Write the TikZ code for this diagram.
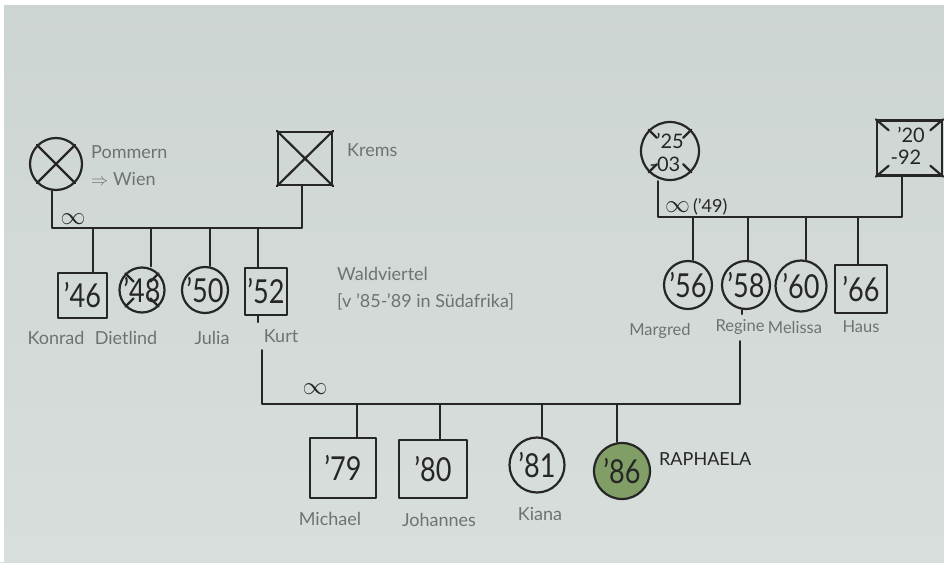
\documentclass[tikz,border=0pt]{standalone}
\usepackage{fontspec}
\setmainfont{Lato}
\usetikzlibrary{calc}

\definecolor{ink}{HTML}{262626}
\definecolor{pencil}{HTML}{6E7372}
\definecolor{paperT}{HTML}{CDD5D2}
\definecolor{paperM}{HTML}{E3E9E6}
\definecolor{paperB}{HTML}{D8DEDB}
\definecolor{leaf}{HTML}{819E66}

% narrow hand-lettered year numbers
\newcommand{\yrtext}[1]{\scalebox{0.82}[1]{#1}}

\tikzset{
  every path/.style={line cap=round, line join=round},
  ink/.style={draw=ink, line width=2.2pt},
  male/.style={ink, rectangle, inner sep=0pt},
  female/.style={ink, circle, inner sep=0pt},
  link/.style={draw=ink, line width=2pt},
  yr/.style={text=ink, inner sep=0pt, font=\fontsize{33}{33}\selectfont},
  yrsmall/.style={text=ink, inner sep=0pt, font=\fontsize{20}{20}\selectfont},
  nm/.style={text=pencil, inner sep=0pt, font=\fontsize{18}{18}\selectfont},
  note/.style={text=pencil, inner sep=0pt, align=left, anchor=west,
               font=\fontsize{18}{27}\selectfont},
  bond/.style={text=ink, inner sep=0pt, font=\fontsize{24}{24}\selectfont},
}

\begin{document}
\begin{tikzpicture}[x=1pt,y=-1pt]
% paper
\shade[top color=paperT, middle color=paperM, bottom color=paperB]
  (0,0) rectangle (944,562);
\fill[white] (0,0) rectangle (944,5);
\fill[white] (0,0) rectangle (4,562);
\useasboundingbox (0,0) rectangle (944,562);

% ---------- paternal grandparents ----------
\node[female, minimum size=52pt] (gmL) at (56,164) {};
\draw[ink] (gmL.north west) -- (gmL.south east)
           (gmL.north east) -- (gmL.south west);
\node[male, minimum width=54pt, minimum height=53pt] (gpL) at (305,158.5) {};
\draw[ink] (gpL.north west) -- (gpL.south east)
           (gpL.north east) -- (gpL.south west);
\node[note] (origL) at (91,166) {Pommern\\$\Rightarrow$ Wien};
\node[note] (origLp) at (347,150) {Krems};

\coordinate (mL) at (302,228);
\draw[link] ([xshift=-4pt]gmL.south) |- (mL) -- (gpL.south -| mL);
\node[bond] (infL) at (73,219) {$\infty$};

% children
\node[male, minimum width=49pt, minimum height=45pt] (konrad) at (82.5,295.5) {};
\node[female, minimum size=45pt] (dietlind) at (142,290) {};
\node[female, minimum size=46pt] (julia) at (205,290) {};
\node[male, minimum width=42pt, minimum height=47pt] (kurt) at (266,291.5) {};
\foreach \a in {north west, north east, south west, south east}
  \draw[ink] ($(dietlind.center)!0.5!(dietlind.\a)$) -- (dietlind.\a);
\node[yr] (konradY) at (konrad) {\yrtext{'46}};
\node[yr] (dietlindY) at (dietlind) {\yrtext{'48}};
\node[yr] (juliaY) at (julia) {\yrtext{'50}};
\node[yr] (kurtY) at (kurt) {\yrtext{'52}};

\coordinate (dK) at (93,228);
\coordinate (dD) at (151,228);
\coordinate (dJ) at (210,228);
\coordinate (dU) at (258,228);
\draw[link] (dK) -- (konrad.north -| dK);
\draw[link] (dD) -- (dietlind.north -| dD);
\draw[link] (dJ) -- (julia.north -| dJ);
\draw[link] (dU) -- (kurt.north -| dU);

\node[nm] (konradN) at (56,338) {Konrad};
\node[nm] (dietlindN) at (126,338) {Dietlind};
\node[nm] (juliaN) at (212,338) {Julia};
\node[nm] (kurtN) at (281,336) {Kurt};

\node[note] (placeK) at (337,289) {Waldviertel\\{[}v '85-'89 in Südafrika{]}};

% ---------- maternal grandparents ----------
\node[female, minimum size=58pt] (gmR) at (670,151) {};
\foreach \a in {north west, north east, south west, south east}
  \draw[ink] ($(gmR.center)!0.62!(gmR.\a)$) -- (gmR.\a);
\node[yrsmall] (gmRY1) at (670,141) {'25};
\node[yrsmall] (gmRY2) at (665,164) {-03};

\node[male, minimum width=65pt, minimum height=55pt] (gpR) at (909.5,148) {};
\foreach \a in {north west, north east, south west, south east}
  \draw[ink] ($(gpR.center)!0.62!(gpR.\a)$) -- (gpR.\a);
\node[yrsmall] (gpRY1) at (911,135) {'20};
\node[yrsmall] (gpRY2) at (906,157) {-92};

\coordinate (mR) at (902,217);
\draw[link] ([xshift=-12pt]gmR.south) |- (mR) -- (gpR.south -| mR);
\node[bond, anchor=west] (infR) at (665,207)
  {$\infty$\fontsize{18}{18}\selectfont\,('49)};

% children
\node[female, minimum size=48pt] (margred) at (688,285) {};
\node[female, minimum size=48pt] (regine) at (746,285) {};
\node[female, minimum size=51pt] (melissa) at (801,286) {};
\node[male, minimum width=52pt, minimum height=48pt] (haus) at (861,289) {};
\node[yr] (margredY) at (margred) {\yrtext{'56}};
\node[yr] (regineY) at (regine) {\yrtext{'58}};
\node[yr] (melissaY) at (melissa) {\yrtext{'60}};
\node[yr] (hausY) at (haus) {\yrtext{'66}};

\coordinate (dMa) at (693,217);
\coordinate (dRe) at (748,217);
\coordinate (dMe) at (806,217);
\coordinate (dHa) at (858,217);
\draw[link] (dMa) -- (margred.north -| dMa);
\draw[link] (dRe) -- (regine.north -| dRe);
\draw[link] (dMe) -- (melissa.north -| dMe);
\draw[link] (dHa) -- (haus.north -| dHa);

\node[nm, font=\fontsize{16.5}{16.5}\selectfont] (margredN) at (660,331) {Margred};
\node[nm, font=\fontsize{16.5}{16.5}\selectfont] (regineN) at (740,327) {Regine};
\node[nm, font=\fontsize{16.5}{16.5}\selectfont] (melissaN) at (795,327) {Melissa};
\node[nm, font=\fontsize{16.5}{16.5}\selectfont] (hausN) at (861,327) {Haus};

% ---------- parents' marriage ----------
\draw[link] (kurt.south -| dU) -- ++(0,6);
\coordinate (regT) at (742,0);
\draw[link] (regine.south -| regT) -- ++(0,4);
\coordinate (kurtD) at (262,350);
\coordinate (regD) at (740,341);
\coordinate (mB) at (740,404);
\draw[link] (kurtD) |- (mB) -- (regD);
\node[bond, font=\fontsize{30}{30}\selectfont] (infB) at (315,389) {$\infty$};

% ---------- grandchildren ----------
\node[male, minimum width=66pt, minimum height=60pt] (michael) at (343,468) {};
\node[male, minimum width=68pt, minimum height=58pt] (johannes) at (433,469) {};
\node[female, minimum size=55pt] (kiana) at (537,465) {};
\node[female, minimum size=56pt, fill=leaf] (raphaela) at (622,471) {};
\node[yr] (michaelY) at (michael) {\yrtext{'79}};
\node[yr] (johannesY) at (johannes) {\yrtext{'80}};
\node[yr] (kianaY) at (kiana) {\yrtext{'81}};
\node[yr] (raphaelaY) at (raphaela) {\yrtext{'86}};

\coordinate (dMi) at (357,404);
\coordinate (dJo) at (440,404);
\coordinate (dKi) at (542,404);
\coordinate (dRa) at (617,404);
\draw[link] (dMi) -- (michael.north -| dMi);
\draw[link] (dJo) -- (johannes.north -| dJo);
\draw[link] (dKi) -- (kiana.north -| dKi);
\draw[link] (dRa) -- (raphaela.north -| dRa);

\node[nm] (michaelN) at (330,519) {Michael};
\node[nm] (johannesN) at (439,520) {Johannes};
\node[nm] (kianaN) at (540,514) {Kiana};
\node[text=ink, inner sep=0pt, anchor=west, font=\fontsize{18}{18}\selectfont]
  (raphaelaN) at (659,459) {RAPHAELA};
\end{tikzpicture}
\end{document}
